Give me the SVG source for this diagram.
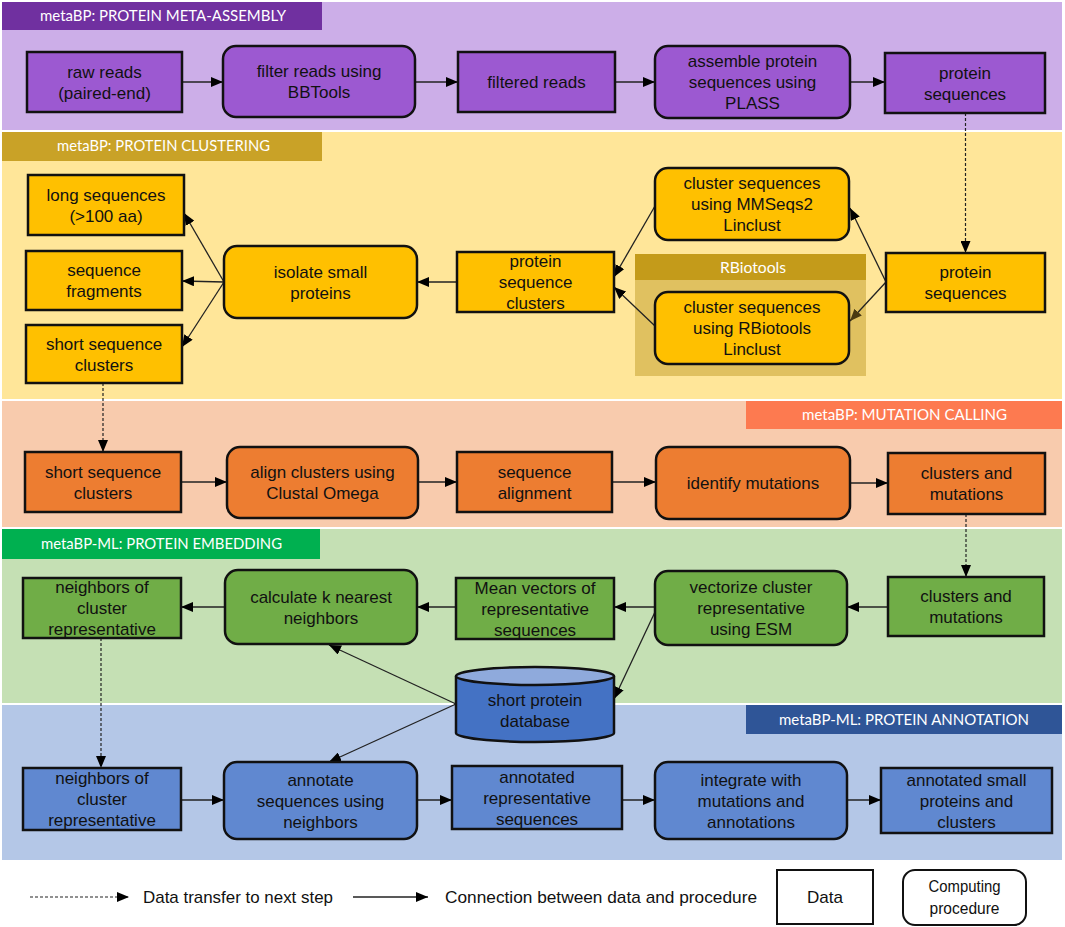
<svg xmlns="http://www.w3.org/2000/svg" width="1065" height="927" viewBox="0 0 1065 927">
<style>
.t{font-family:"Liberation Sans",Arial,sans-serif;font-size:17px;fill:#111;text-anchor:middle}
.h{font-family:Lato,"Open Sans",sans-serif;font-size:16px;fill:#fff}
.lg{font-family:"Liberation Sans",Arial,sans-serif;font-size:17px;fill:#111}
.d{stroke:#111;stroke-width:2.5}
.p{stroke:#111;stroke-width:2.5}
.c{fill:none;stroke:#222;stroke-width:1.3}
.dash{fill:none;stroke:#222;stroke-width:1.2;stroke-dasharray:3 2}
.pu{fill:#9c59d1}.ye{fill:#ffc000}.or{fill:#ed7d31}.gr{fill:#70ad47}.bl{fill:#6088d0}
</style>
<defs>
<marker id="ah" viewBox="0 0 12 10" refX="12" refY="5" markerWidth="12" markerHeight="10" markerUnits="userSpaceOnUse" orient="auto"><path d="M0,0 L12,5 L0,10 z" fill="#000"/></marker>
<marker id="ahd" viewBox="0 0 12 10" refX="12" refY="5" markerWidth="12" markerHeight="10" markerUnits="userSpaceOnUse" orient="auto"><path d="M0,0 L12,5 L0,10 z" fill="#4a3a12"/></marker>
</defs>
<rect width="1065" height="927" fill="#fff"/>
<g id="bands">
<rect x="2" y="2" width="1060" height="128" fill="#ccaee8"/>
<rect x="2" y="2" width="320" height="28" fill="#7030a0"/>
<text class="h" x="40" y="21" textLength="246" lengthAdjust="spacingAndGlyphs">metaBP: PROTEIN META-ASSEMBLY</text>
<rect x="2" y="132" width="1060" height="267" fill="#ffe699"/>
<rect x="2" y="132" width="320" height="29" fill="#c9a227"/>
<text class="h" x="57" y="151" textLength="213" lengthAdjust="spacingAndGlyphs">metaBP: PROTEIN CLUSTERING</text>
<rect x="2" y="401" width="1060" height="126" fill="#f8cbad"/>
<rect x="746" y="401" width="316" height="28" fill="#fd7a50"/>
<text class="h" x="802" y="420" textLength="205" lengthAdjust="spacingAndGlyphs">metaBP: MUTATION CALLING</text>
<rect x="2" y="529" width="1060" height="174" fill="#c5e0b4"/>
<rect x="2" y="529" width="318" height="30" fill="#00b050"/>
<text class="h" x="41" y="549" textLength="241" lengthAdjust="spacingAndGlyphs">metaBP-ML: PROTEIN EMBEDDING</text>
<rect x="2" y="705" width="1060" height="155" fill="#b4c7e7"/>
<rect x="746" y="705" width="316" height="29" fill="#2f5597"/>
<text class="h" x="779" y="725" textLength="250" lengthAdjust="spacingAndGlyphs">metaBP-ML: PROTEIN ANNOTATION</text>
</g>
<g id="rbiotools-group">
<rect x="635" y="254" width="231" height="122" fill="#e0c160"/>
<rect x="635" y="254" width="231" height="26" fill="#c49b1a"/>
<text class="h" x="720" y="273" textLength="66" lengthAdjust="spacingAndGlyphs">RBiotools</text>
</g>
<g id="connectors">
<line class="c" x1="182" y1="82" x2="223" y2="82" marker-end="url(#ah)"/>
<line class="c" x1="415" y1="82" x2="458" y2="82" marker-end="url(#ah)"/>
<line class="c" x1="615" y1="82" x2="655" y2="82" marker-end="url(#ah)"/>
<line class="c" x1="850" y1="82" x2="885" y2="82" marker-end="url(#ah)"/>
<line class="dash" x1="965.5" y1="113" x2="965.5" y2="253" marker-end="url(#ah)"/>
<line class="c" x1="886" y1="282" x2="850" y2="208" marker-end="url(#ah)"/>
<line class="c" x1="886" y1="282" x2="850" y2="321" marker-end="url(#ahd)"/>
<line class="c" x1="655" y1="206" x2="614" y2="277" marker-end="url(#ah)"/>
<line class="c" x1="655" y1="326" x2="614" y2="287" marker-end="url(#ah)"/>
<line class="c" x1="457" y1="282" x2="417" y2="282" marker-end="url(#ah)"/>
<line class="c" x1="224" y1="282" x2="184" y2="213" marker-end="url(#ah)"/>
<line class="c" x1="224" y1="282" x2="182" y2="281" marker-end="url(#ah)"/>
<line class="c" x1="224" y1="282" x2="182" y2="347" marker-end="url(#ah)"/>
<line class="dash" x1="103" y1="383" x2="103" y2="452" marker-end="url(#ah)"/>
<line class="c" x1="181" y1="482" x2="227" y2="482" marker-end="url(#ah)"/>
<line class="c" x1="418" y1="482" x2="457" y2="482" marker-end="url(#ah)"/>
<line class="c" x1="612" y1="482" x2="656" y2="482" marker-end="url(#ah)"/>
<line class="c" x1="850" y1="483" x2="888" y2="483" marker-end="url(#ah)"/>
<line class="dash" x1="966" y1="514" x2="966" y2="577" marker-end="url(#ah)"/>
<line class="c" x1="888" y1="607" x2="847" y2="607" marker-end="url(#ah)"/>
<line class="c" x1="655" y1="607" x2="614" y2="607" marker-end="url(#ah)"/>
<line class="c" x1="456" y1="607" x2="417" y2="607" marker-end="url(#ah)"/>
<line class="c" x1="225" y1="607" x2="181" y2="607" marker-end="url(#ah)"/>
<line class="c" x1="655" y1="612" x2="614" y2="699" marker-end="url(#ah)"/>
<line class="c" x1="456" y1="704" x2="329" y2="645" marker-end="url(#ah)"/>
<line class="c" x1="456" y1="704" x2="329" y2="762" marker-end="url(#ah)"/>
<line class="dash" x1="101" y1="638" x2="101" y2="768" marker-end="url(#ah)"/>
<line class="c" x1="181" y1="800" x2="224" y2="800" marker-end="url(#ah)"/>
<line class="c" x1="417" y1="800" x2="452" y2="800" marker-end="url(#ah)"/>
<line class="c" x1="622" y1="800" x2="655" y2="800" marker-end="url(#ah)"/>
<line class="c" x1="847" y1="800" x2="881" y2="800" marker-end="url(#ah)"/>
</g>
<g id="raw-reads"><rect class="d pu" x="27" y="52" width="155" height="60"/><text class="t" x="104.5" y="77.5">raw reads</text><text class="t" x="104.5" y="98.5">(paired-end)</text></g>
<g id="filter-reads"><rect class="p pu" x="223" y="46" width="192" height="71" rx="13"/><text class="t" x="319" y="77">filter reads using</text><text class="t" x="319" y="98">BBTools</text></g>
<g id="filtered-reads"><rect class="d pu" x="458" y="52" width="157" height="60"/><text class="t" x="536.5" y="88">filtered reads</text></g>
<g id="assemble"><rect class="p pu" x="655" y="46" width="195" height="72" rx="13"/><text class="t" x="752.5" y="67">assemble protein</text><text class="t" x="752.5" y="88">sequences using</text><text class="t" x="752.5" y="109">PLASS</text></g>
<g id="protein-sequences-1"><rect class="d pu" x="885" y="53" width="160" height="60"/><text class="t" x="965" y="78.5">protein</text><text class="t" x="965" y="99.5">sequences</text></g>

<g id="long-sequences"><rect class="d ye" x="28" y="175" width="156" height="60"/><text class="t" x="106" y="200.5">long sequences</text><text class="t" x="106" y="221.5">(&gt;100 aa)</text></g>
<g id="sequence-fragments"><rect class="d ye" x="26" y="251" width="156" height="59"/><text class="t" x="104" y="276">sequence</text><text class="t" x="104" y="297">fragments</text></g>
<g id="short-sequence-clusters-1"><rect class="d ye" x="26" y="325" width="156" height="58"/><text class="t" x="104" y="349.5">short sequence</text><text class="t" x="104" y="370.5">clusters</text></g>
<g id="isolate"><rect class="p ye" x="224" y="246" width="193" height="72" rx="13"/><text class="t" x="320.5" y="277.5">isolate small</text><text class="t" x="320.5" y="298.5">proteins</text></g>
<g id="protein-sequence-clusters"><rect class="d ye" x="457" y="252" width="157" height="60"/><text class="t" x="535.5" y="267">protein</text><text class="t" x="535.5" y="288">sequence</text><text class="t" x="535.5" y="309">clusters</text></g>
<g id="mmseqs2"><rect class="p ye" x="655" y="168" width="194" height="72" rx="13"/><text class="t" x="752" y="189">cluster sequences</text><text class="t" x="752" y="210">using MMSeqs2</text><text class="t" x="752" y="231">Linclust</text></g>
<g id="rbiotools-linclust"><rect class="p ye" x="655" y="292" width="194" height="72" rx="13"/><text class="t" x="752" y="313">cluster sequences</text><text class="t" x="752" y="334">using RBiotools</text><text class="t" x="752" y="355">Linclust</text></g>
<g id="protein-sequences-2"><rect class="d ye" x="886" y="253" width="159" height="59"/><text class="t" x="965.5" y="278">protein</text><text class="t" x="965.5" y="299">sequences</text></g>

<g id="short-sequence-clusters-2"><rect class="d or" x="25" y="452" width="156" height="60"/><text class="t" x="103" y="477.5">short sequence</text><text class="t" x="103" y="498.5">clusters</text></g>
<g id="align"><rect class="p or" x="227" y="447" width="191" height="71" rx="13"/><text class="t" x="322.5" y="478">align clusters using</text><text class="t" x="322.5" y="499">Clustal Omega</text></g>
<g id="sequence-alignment"><rect class="d or" x="457" y="452" width="155" height="60"/><text class="t" x="534.5" y="477.5">sequence</text><text class="t" x="534.5" y="498.5">alignment</text></g>
<g id="identify-mutations"><rect class="p or" x="656" y="447" width="194" height="72" rx="13"/><text class="t" x="753" y="489">identify mutations</text></g>
<g id="clusters-mutations-1"><rect class="d or" x="888" y="453" width="157" height="61"/><text class="t" x="966.5" y="479">clusters and</text><text class="t" x="966.5" y="500">mutations</text></g>

<g id="neighbors-1"><rect class="d gr" x="23" y="578" width="158" height="60"/><text class="t" x="102" y="593">neighbors of</text><text class="t" x="102" y="614">cluster</text><text class="t" x="102" y="635">representative</text></g>
<g id="calculate-knn"><rect class="p gr" x="225" y="570" width="192" height="74" rx="13"/><text class="t" x="321" y="602.5">calculate k nearest</text><text class="t" x="321" y="623.5">neighbors</text></g>
<g id="mean-vectors"><rect class="d gr" x="456" y="578" width="158" height="61"/><text class="t" x="535" y="593.5">Mean vectors of</text><text class="t" x="535" y="614.5">representative</text><text class="t" x="535" y="635.5">sequences</text></g>
<g id="vectorize"><rect class="p gr" x="655" y="571" width="192" height="74" rx="13"/><text class="t" x="751" y="593">vectorize cluster</text><text class="t" x="751" y="614">representative</text><text class="t" x="751" y="635">using ESM</text></g>
<g id="clusters-mutations-2"><rect class="d gr" x="888" y="577" width="156" height="59"/><text class="t" x="966" y="602">clusters and</text><text class="t" x="966" y="623">mutations</text></g>
<g id="database">
<path d="M456,676 L456,733 A79,9 0 0 0 614,733 L614,676" fill="#4472c4" stroke="#111" stroke-width="2.5"/>
<ellipse cx="535" cy="676" rx="79" ry="9" fill="#8faadc" stroke="#111" stroke-width="2.5"/>
<text class="t" x="535" y="706">short protein</text><text class="t" x="535" y="727">database</text>
</g>

<g id="neighbors-2"><rect class="d bl" x="23" y="768" width="158" height="62"/><text class="t" x="102" y="784">neighbors of</text><text class="t" x="102" y="805">cluster</text><text class="t" x="102" y="826">representative</text></g>
<g id="annotate"><rect class="p bl" x="224" y="762" width="193" height="77" rx="13"/><text class="t" x="320.5" y="785.5">annotate</text><text class="t" x="320.5" y="806.5">sequences using</text><text class="t" x="320.5" y="827.5">neighbors</text></g>
<g id="annotated-representative"><rect class="d bl" x="452" y="766" width="170" height="63"/><text class="t" x="537" y="782.5">annotated</text><text class="t" x="537" y="803.5">representative</text><text class="t" x="537" y="824.5">sequences</text></g>
<g id="integrate"><rect class="p bl" x="655" y="762" width="192" height="77" rx="13"/><text class="t" x="751" y="785.5">integrate with</text><text class="t" x="751" y="806.5">mutations and</text><text class="t" x="751" y="827.5">annotations</text></g>
<g id="annotated-small"><rect class="d bl" x="881" y="768" width="171" height="65"/><text class="t" x="966.5" y="785.5">annotated small</text><text class="t" x="966.5" y="806.5">proteins and</text><text class="t" x="966.5" y="827.5">clusters</text></g>

<g id="legend">
<line class="dash" x1="30" y1="897" x2="129" y2="897" marker-end="url(#ah)"/>
<text class="lg" x="143" y="903" textLength="190" lengthAdjust="spacingAndGlyphs">Data transfer to next step</text>
<line class="c" x1="353" y1="897" x2="428" y2="897" marker-end="url(#ah)"/>
<text class="lg" x="445" y="903" textLength="312" lengthAdjust="spacingAndGlyphs">Connection between data and procedure</text>
<rect x="777" y="870" width="96" height="54" fill="#fff" stroke="#111" stroke-width="2"/>
<text class="t" x="825" y="903" textLength="36" lengthAdjust="spacingAndGlyphs">Data</text>
<rect x="903" y="870" width="123" height="55" rx="12" fill="#fff" stroke="#111" stroke-width="2"/>
<text class="t" x="964.5" y="892" textLength="72" lengthAdjust="spacingAndGlyphs">Computing</text>
<text class="t" x="964.5" y="914" textLength="70" lengthAdjust="spacingAndGlyphs">procedure</text>
</g>
</svg>
